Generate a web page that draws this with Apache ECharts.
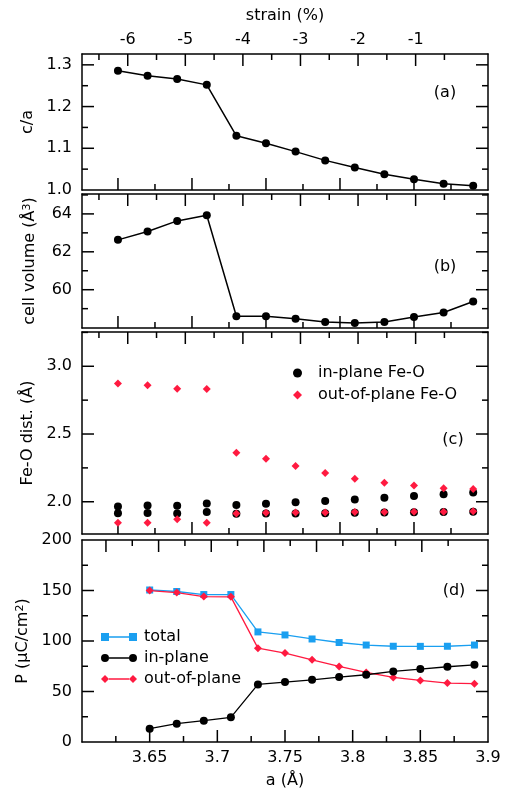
<!DOCTYPE html>
<html>
<head>
<meta charset="utf-8">
<script src="https://cdn.jsdelivr.net/npm/echarts@6/dist/echarts.min.js"></script>
<style>
  html, body { margin: 0; padding: 0; background: #fff; }
  #main { width: 510px; height: 793px; }
</style>
</head>
<body>
<div id="main"></div>
<script>
// lattice parameter a (Å) shared by all four panels
var aVals = [3.65, 3.67, 3.69, 3.71, 3.73, 3.75, 3.77, 3.79, 3.81, 3.83, 3.85, 3.87, 3.89];

// (a) c/a ratio
var cOverA = [1.286, 1.274, 1.266, 1.252, 1.130, 1.112, 1.092, 1.071, 1.054, 1.038, 1.026, 1.015, 1.010];
// (b) cell volume (Å^3)
var cellVolume = [62.63, 63.07, 63.63, 63.93, 58.60, 58.60, 58.47, 58.30, 58.25, 58.30, 58.56, 58.80, 59.38];
// (c) Fe-O distances (Å), two in-plane and two out-of-plane values per a
var inPlaneFeO1 = [1.965, 1.972, 1.970, 1.988, 1.976, 1.986, 1.996, 2.005, 2.017, 2.029, 2.042, 2.056, 2.069];
var inPlaneFeO2 = [1.916, 1.917, 1.913, 1.924, 1.911, 1.913, 1.914, 1.916, 1.918, 1.920, 1.922, 1.924, 1.926];
var outPlaneFeO1 = [2.872, 2.860, 2.835, 2.833, 2.361, 2.317, 2.263, 2.213, 2.169, 2.140, 2.120, 2.100, 2.095];
var outPlaneFeO2 = [1.845, 1.845, 1.870, 1.845, 1.914, 1.919, 1.920, 1.920, 1.924, 1.924, 1.926, 1.926, 1.929];
// (d) polarization (µC/cm^2)
var pTotal = [150.5, 149, 146, 146, 109, 106, 102, 98.5, 96, 94.8, 94.7, 94.8, 96];
var pInPlane = [13.2, 18.1, 21.1, 24.4, 57, 59.3, 61.6, 64.3, 66.6, 69.9, 72.2, 74.5, 76.4];
var pOutPlane = [149.9, 147.9, 144, 143.7, 92.9, 88, 81.4, 74.8, 68.9, 63.9, 61, 58.3, 57.7];

// tick values
var aTicks = [3.65, 3.7, 3.75, 3.8, 3.85, 3.9];
var aMinorTicks = [3.625, 3.675, 3.725, 3.775, 3.825, 3.875];
var strainTicks = [-7, -6, -5, -4, -3, -2, -1];
var strainLabels = [-6, -5, -4, -3, -2, -1];
var strainMinorTicks = [-7.5, -6.5, -5.5, -4.5, -3.5, -2.5, -1.5, -0.5];
var caTicks = [1.0, 1.1, 1.2, 1.3];
var caMinorTicks = [1.05, 1.15, 1.25];
var volTicks = [60, 62, 64];
var volMinorTicks = [59, 61, 63, 65];
var distTicks = [2.0, 2.5, 3.0];
var distMinorTicks = [2.25, 2.75, 3.25];
var pTicks = [0, 50, 100, 150, 200];
var pMinorTicks = [25, 75, 125, 175];

var a0 = 3.89; // reference lattice parameter for the strain scale
var FONT = 'DejaVu Sans';
var RED = '#ff1a40';
var BLUE = '#1a9ff0';

function pairs(ys) {
  return aVals.map(function (x, i) { return [x, ys[i]]; });
}
function strainOf(a) { return (a / a0 - 1) * 100; }
function aOfStrain(s) { return a0 * (1 + s / 100); }

var xAxis = [], yAxis = [];

// plain frame axis (line only, ticks are drawn by the tick series below)
function addAxis(list, grid, pos, min, max, label, extra) {
  var ax = {
    type: 'value', gridIndex: grid, position: pos, min: min, max: max,
    splitLine: { show: false },
    axisLine: { show: true, onZero: false, lineStyle: { color: '#000', width: 1.5 } },
    axisTick: { show: false },
    axisLabel: label ? Object.assign({ show: true, fontSize: 16, fontFamily: FONT, color: '#000' }, label)
                     : { show: false }
  };
  Object.assign(ax, extra || {});
  list.push(ax);
  return list.length - 1;
}

function yName(text) {
  return {
    name: text, nameLocation: 'middle', nameRotate: 90, nameGap: 44,
    nameTextStyle: { fontSize: 16, fontFamily: FONT, color: '#000',
      rich: { sup: { fontSize: 11, fontFamily: FONT, color: '#000', verticalAlign: 'top', lineHeight: 12 } } }
  };
}

var fix1 = function (v) { return v.toFixed(1); };

// x ranges
var aMinTop = 3.6257, aMaxTop = 3.9;   // panels a-c
var aMinBot = 3.6, aMaxBot = 3.9;      // panel d

// panel a
var xa = addAxis(xAxis, 0, 'bottom', aMinTop, aMaxTop);
addAxis(xAxis, 0, 'top', strainOf(aMinTop), strainOf(aMaxTop),
  { customValues: strainLabels, margin: 6 },
  { name: 'strain (%)', nameLocation: 'middle', nameGap: 30,
    nameTextStyle: { fontSize: 16, fontFamily: FONT, color: '#000' } });
var ya = addAxis(yAxis, 0, 'left', 1.0, 1.326,
  { customValues: caTicks, margin: 10, formatter: fix1 }, yName('c/a'));
addAxis(yAxis, 0, 'right', 1.0, 1.326);

// panel b
var xb = addAxis(xAxis, 1, 'bottom', aMinTop, aMaxTop);
addAxis(xAxis, 1, 'top', aMinTop, aMaxTop);
var yb = addAxis(yAxis, 1, 'left', 57.98, 65.05,
  { customValues: volTicks, margin: 10 }, yName('cell volume (Å{sup|3})'));
addAxis(yAxis, 1, 'right', 57.98, 65.05);

// panel c
var xc = addAxis(xAxis, 2, 'bottom', aMinTop, aMaxTop);
addAxis(xAxis, 2, 'top', aMinTop, aMaxTop);
var yc = addAxis(yAxis, 2, 'left', 1.762, 3.253,
  { customValues: distTicks, margin: 10, formatter: fix1 }, yName('Fe-O dist. (Å)'));
addAxis(yAxis, 2, 'right', 1.762, 3.253);

// panel d
var xd = addAxis(xAxis, 3, 'bottom', aMinBot, aMaxBot,
  { customValues: aTicks, margin: 8 },
  { name: 'a (Å)', nameLocation: 'middle', nameGap: 31,
    nameTextStyle: { fontSize: 16, fontFamily: FONT, color: '#000' } });
addAxis(xAxis, 3, 'top', aMinBot, aMaxBot);
var yd = addAxis(yAxis, 3, 'left', 0, 200,
  { customValues: pTicks, margin: 10 }, yName('P (μC/cm{sup|2})'));
addAxis(yAxis, 3, 'right', 0, 200);

// inward tick marks for one panel: a ticks at the bottom, strain ticks at the top, y ticks on both sides
function tickSpecs(xMin, xMax, yMin, yMax, yMajor, yMinor) {
  var specs = [];
  function addX(side, vals, len) {
    vals.forEach(function (v) {
      if (v > xMin + 1e-6 && v < xMax - 1e-6) specs.push({ side: side, len: len, x: v, y: yMin });
    });
  }
  function addY(vals, len) {
    vals.forEach(function (v) {
      if (v > yMin + 1e-6 && v < yMax - 1e-6) {
        specs.push({ side: 'left', len: len, x: xMin, y: v });
        specs.push({ side: 'right', len: len, x: xMin, y: v });
      }
    });
  }
  addX('bottom', aTicks, 12);
  addX('bottom', aMinorTicks, 6);
  addX('top', strainTicks.map(aOfStrain), 12);
  addX('top', strainMinorTicks.map(aOfStrain), 6);
  addY(yMajor, 12);
  addY(yMinor, 6);
  return specs;
}

function tickSeries(specs, xi, yi) {
  return {
    type: 'custom', name: 'ticks', xAxisIndex: xi, yAxisIndex: yi, silent: true, z: 1,
    data: specs.map(function (t) { return [t.x, t.y]; }),
    renderItem: function (params, api) {
      var t = specs[params.dataIndex];
      var cs = params.coordSys;
      var p = api.coord([t.x, t.y]);
      var shape;
      if (t.side === 'bottom') shape = { x1: p[0], y1: cs.y + cs.height, x2: p[0], y2: cs.y + cs.height - t.len };
      else if (t.side === 'top') shape = { x1: p[0], y1: cs.y, x2: p[0], y2: cs.y + t.len };
      else if (t.side === 'left') shape = { x1: cs.x, y1: p[1], x2: cs.x + t.len, y2: p[1] };
      else shape = { x1: cs.x + cs.width, y1: p[1], x2: cs.x + cs.width - t.len, y2: p[1] };
      return { type: 'line', shape: shape, style: { stroke: '#000', lineWidth: 1.5 } };
    }
  };
}

var labelText = function (t, x, y) {
  return { type: 'text', x: x, y: y,
    style: { text: t, fontSize: 16, fontFamily: FONT, fill: '#000', align: 'center', verticalAlign: 'middle' } };
};

var option = {
  animation: false,
  backgroundColor: '#fff',
  grid: [
    { left: 82, width: 406, top: 54, height: 136 },
    { left: 82, width: 406, top: 194, height: 134 },
    { left: 82, width: 406, top: 332, height: 202 },
    { left: 82, width: 406, top: 540, height: 202 }
  ],
  xAxis: xAxis,
  yAxis: yAxis,
  legend: [
    {
      data: [{ name: 'in-plane Fe-O', icon: 'circle' }, { name: 'out-of-plane Fe-O', icon: 'diamond' }],
      orient: 'vertical', left: 288, top: 360, itemWidth: 9, itemHeight: 9, itemGap: 6,
      itemStyle: { opacity: 1 },
      textStyle: { fontSize: 16, fontFamily: FONT, color: '#000', padding: [0, 0, 0, 11] }
    },
    {
      data: [
        { name: 'total', icon: 'path://M0,0h8v8h-8zM8,3.25h20v1.5h-20zM28,0h8v8h-8z' },
        { name: 'in-plane', icon: 'path://M0,4a4,4 0 1,0 8,0a4,4 0 1,0 -8,0zM8,3.25h20v1.5h-20zM28,4a4,4 0 1,0 8,0a4,4 0 1,0 -8,0z' },
        { name: 'out-of-plane', icon: 'path://M4,0l4,4l-4,4l-4,-4zM8,3.25h20v1.5h-20zM32,0l4,4l-4,4l-4,-4z' }
      ],
      orient: 'vertical', left: 96, top: 624, itemWidth: 36, itemHeight: 8, itemGap: 5,
      textStyle: { fontSize: 16, fontFamily: FONT, color: '#000', padding: [0, 0, 0, 2] }
    }
  ],
  graphic: [
    labelText('(a)', 445, 93),
    labelText('(b)', 445, 267),
    labelText('(c)', 453, 440),
    labelText('(d)', 454, 591)
  ],
  series: [
    tickSeries(tickSpecs(aMinTop, aMaxTop, 1.0, 1.326, caTicks, caMinorTicks), xa, ya),
    tickSeries(tickSpecs(aMinTop, aMaxTop, 57.98, 65.05, volTicks, volMinorTicks), xb, yb),
    tickSeries(tickSpecs(aMinTop, aMaxTop, 1.762, 3.253, distTicks, distMinorTicks), xc, yc),
    tickSeries(tickSpecs(aMinBot, aMaxBot, 0, 200, pTicks, pMinorTicks), xd, yd),
    {
      name: 'c/a', type: 'line', xAxisIndex: xa, yAxisIndex: ya, data: pairs(cOverA),
      symbol: 'circle', symbolSize: 8, color: '#000', lineStyle: { color: '#000', width: 1.5 }
    },
    {
      name: 'cell volume', type: 'line', xAxisIndex: xb, yAxisIndex: yb, data: pairs(cellVolume),
      symbol: 'circle', symbolSize: 8, color: '#000', lineStyle: { color: '#000', width: 1.5 }
    },
    {
      name: 'in-plane Fe-O', type: 'scatter', xAxisIndex: xc, yAxisIndex: yc, data: pairs(inPlaneFeO1),
      symbol: 'circle', symbolSize: 8, itemStyle: { color: '#000', opacity: 1 }
    },
    {
      name: 'in-plane Fe-O', type: 'scatter', xAxisIndex: xc, yAxisIndex: yc, data: pairs(inPlaneFeO2),
      symbol: 'circle', symbolSize: 8, itemStyle: { color: '#000', opacity: 1 }
    },
    {
      name: 'out-of-plane Fe-O', type: 'scatter', xAxisIndex: xc, yAxisIndex: yc, data: pairs(outPlaneFeO1),
      symbol: 'diamond', symbolSize: 8, itemStyle: { color: RED, opacity: 1 }
    },
    {
      name: 'out-of-plane Fe-O', type: 'scatter', xAxisIndex: xc, yAxisIndex: yc, data: pairs(outPlaneFeO2),
      symbol: 'diamond', symbolSize: 8, itemStyle: { color: RED, opacity: 1 }
    },
    {
      name: 'total', type: 'line', xAxisIndex: xd, yAxisIndex: yd, data: pairs(pTotal),
      symbol: 'rect', symbolSize: 7, color: BLUE, lineStyle: { color: BLUE, width: 1.3 }
    },
    {
      name: 'out-of-plane', type: 'line', xAxisIndex: xd, yAxisIndex: yd, data: pairs(pOutPlane),
      symbol: 'diamond', symbolSize: 8, color: RED, lineStyle: { color: RED, width: 1.3 }
    },
    {
      name: 'in-plane', type: 'line', xAxisIndex: xd, yAxisIndex: yd, data: pairs(pInPlane),
      symbol: 'circle', symbolSize: 8, color: '#000', lineStyle: { color: '#000', width: 1.3 }
    }
  ]
};

var chart = echarts.init(document.getElementById('main'), null, { renderer: 'canvas' });
chart.setOption(option);
</script>
</body>
</html>
